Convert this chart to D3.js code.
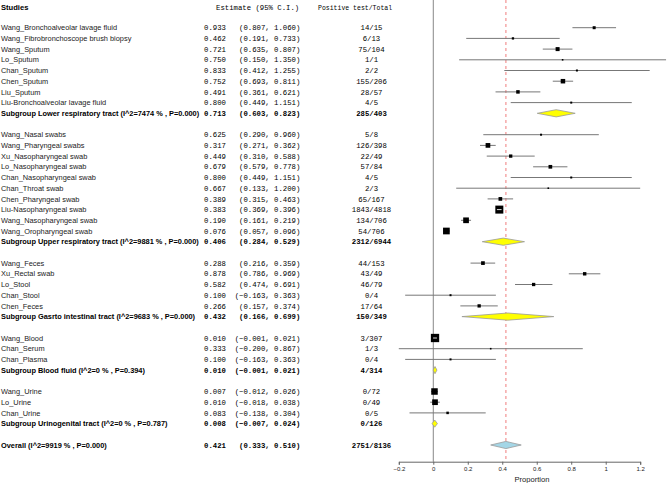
<!DOCTYPE html>
<html>
<head>
<meta charset="utf-8">
<script src="https://cdn.jsdelivr.net/npm/d3@7"></script>
<style>
html,body{margin:0;padding:0;background:#fff;}
svg{display:block;}
</style>
</head>
<body>
<svg id="chart" width="667" height="483"></svg>
<script>
// ---- data ----
const studies = [
 "Wang_Bronchoalveolar lavage fluid","Wang_Fibrobronchoscope brush biopsy","Wang_Sputum","Lo_Sputum","Chan_Sputum","Chen_Sputum","Liu_Sputum","Liu-Bronchoalveolar lavage fluid",
 "Wang_Nasal swabs","Wang_Pharyngeal swabs","Xu_Nasopharyngeal swab","Lo_Nasopharyngeal swab","Chan_Nasopharyngeal swab","Chan_Throat swab","Chen_Pharyngeal swab","Liu-Nasopharyngeal swab","Wang_Nasopharyngeal swab","Wang_Oropharyngeal swab",
 "Wang_Feces","Xu_Rectal swab","Lo_Stool","Chan_Stool","Chen_Feces",
 "Wang_Blood","Chan_Serum","Chan_Plasma",
 "Wang_Urine","Lo_Urine","Chan_Urine"
];
const groupOf = [0,0,0,0,0,0,0,0, 1,1,1,1,1,1,1,1,1,1, 2,2,2,2,2, 3,3,3, 4,4,4];
const estimates = [0.933,0.462,0.721,0.750,0.833,0.752,0.491,0.800,
 0.625,0.317,0.449,0.679,0.800,0.667,0.389,0.383,0.190,0.076,
 0.288,0.878,0.582,0.100,0.266,
 0.010,0.333,0.100,
 0.007,0.010,0.083];
const lower = [0.807,0.191,0.635,0.150,0.412,0.693,0.361,0.449,
 0.290,0.271,0.310,0.579,0.449,0.133,0.315,0.369,0.161,0.057,
 0.216,0.786,0.474,-0.163,0.157,
 -0.001,-0.200,-0.163,
 -0.012,-0.018,-0.138];
const upper = [1.060,0.733,0.807,1.350,1.255,0.811,0.621,1.151,
 0.960,0.362,0.588,0.778,1.151,1.200,0.463,0.396,0.219,0.096,
 0.359,0.969,0.691,0.363,0.374,
 0.021,0.867,0.363,
 0.026,0.038,0.304];
const counts = ["14/15","6/13","75/104","1/1","2/2","155/206","28/57","4/5",
 "5/8","126/398","22/49","57/84","4/5","2/3","65/167","1843/4818","134/706","54/706",
 "44/153","43/49","46/79","0/4","17/64",
 "3/307","1/3","0/4",
 "0/72","0/49","0/5"];
// relative study weights
const weights = [3.0,2.3,4.0,1.6,2.0,4.5,3.5,2.0,
 2.0,4.7,3.3,3.7,2.0,1.6,3.7,8.0,5.7,6.7,
 3.7,3.4,3.3,2.0,3.3,
 8.3,1.6,2.0,
 6.5,5.7,2.5];
const subgroupNames = [
 "Subgroup Lower respiratory tract (I^2=7474 % , P=0.000)",
 "Subgroup Upper respiratory tract (I^2=9881 % , P=0.000)",
 "Subgroup Gasrto intestinal tract (I^2=9683 % , P=0.000)",
 "Subgroup Blood fluid (I^2=0 % , P=0.394)",
 "Subgroup Urinogenital tract (I^2=0 % , P=0.787)"
];
const subEst = [0.713,0.406,0.432,0.010,0.008];
const subLow = [0.603,0.284,0.166,-0.001,-0.007];
const subUp = [0.823,0.529,0.699,0.021,0.024];
const subCounts = ["285/403","2312/6944","150/349","4/314","0/126"];
const overallName = "Overall (I^2=9919 % , P=0.000)";
const overall = {est:0.421, lo:0.333, hi:0.510, n:"2751/8136"};
const xTicks = [-0.2,0,0.2,0.4,0.6,0.8,1,1.2];
const xLabel = "Proportion";

// ---- build rows ----
const rows = [];
let r = 0;
for (let g = 0; g < subgroupNames.length; g++) {
  studies.forEach((s,i) => {
    if (groupOf[i] === g) rows.push({type:"study", row:r++, name:s, est:estimates[i], lo:lower[i], hi:upper[i], n:counts[i], w:weights[i]});
  });
  rows.push({type:"sub", row:r++, name:subgroupNames[g], est:subEst[g], lo:subLow[g], hi:subUp[g], n:subCounts[g]});
  r++; // blank
}
rows.push({type:"overall", row:r, name:overallName, est:overall.est, lo:overall.lo, hi:overall.hi, n:overall.n});

const svg = d3.select("#chart");
const y = d3.scaleLinear().domain([0, r]).range([27.7, 445]);
const x = d3.scaleLinear().domain([-0.2, 1.2]).range([398.8, 640.2]);
const size = d3.scaleLinear().domain([0, 10]).range([0, 10]);
const axisY = 461.7;

const fmt = d3.format(".3f");
const ciText = d => {
  const e = fmt(d.est);
  const c = "(" + fmt(d.lo) + ", " + fmt(d.hi) + ")";
  const pad = " ".repeat(Math.max(1, 22 - e.length - c.length));
  return e + pad + c;
};

const sans = "'Liberation Sans', Arial, Helvetica, sans-serif";
const mono = "'Liberation Mono', 'Courier New', monospace";

// headers
svg.append("text").attr("x",1).attr("y",10).attr("font-family",sans).attr("font-weight","bold")
  .attr("font-size",7.6).text("Studies");
svg.append("text").attr("x",216).attr("y",10).attr("font-family",mono).attr("font-size",7.3)
  .style("white-space","pre").text("Estimate (95% C.I.)");
svg.append("text").attr("x",318).attr("y",10).attr("font-family",mono).attr("font-size",6.5)
  .style("white-space","pre").text("Positive test/Total");

// reference lines
svg.append("line").attr("x1",x(0)).attr("x2",x(0)).attr("y1",0).attr("y2",axisY)
  .attr("stroke","#888").attr("stroke-width",1);
svg.append("line").attr("x1",x(overall.est)).attr("x2",x(overall.est)).attr("y1",0).attr("y2",axisY)
  .attr("stroke","#f5a3a3").attr("stroke-width",1.4).attr("stroke-dasharray","3,3");

// text columns
const tg = svg.append("g");
rows.forEach(d => {
  const bold = d.type !== "study" ? "bold" : "normal";
  const yy = y(d.row) + 2.6;
  tg.append("text").attr("x",1).attr("y",yy).attr("font-family",sans).attr("font-size",7.4)
    .attr("font-weight",bold).attr("fill", d.type==="study" ? "#222" : "#000").text(d.name);
  tg.append("text").attr("x",204).attr("y",yy).attr("font-family",mono).attr("font-size",7.3)
    .attr("font-weight",bold).style("white-space","pre").text(ciText(d));
  tg.append("text").attr("x",371.5).attr("y",yy).attr("text-anchor","middle").attr("font-family",mono)
    .attr("font-size",7.3).attr("font-weight",bold).text(d.n);
});

// study marks
const mg = svg.append("g");
rows.filter(d => d.type === "study").forEach(d => {
  const yy = y(d.row);
  const s = size(d.w);
  const inside = (x(d.hi) - x(d.lo)) < s;
  if (!inside) {
    mg.append("line").attr("x1",x(d.lo)).attr("x2",x(d.hi)).attr("y1",yy).attr("y2",yy)
      .attr("stroke","#777").attr("stroke-width",1);
  }
  mg.append("rect").attr("x",x(d.est)-s/2).attr("y",yy-s/2).attr("width",s).attr("height",s).attr("fill","#000");
  if (inside) {
    mg.append("line").attr("x1",x(d.lo)).attr("x2",x(d.hi)).attr("y1",yy).attr("y2",yy)
      .attr("stroke","#ddd").attr("stroke-width",1);
  }
});

// diamonds
rows.filter(d => d.type !== "study").forEach(d => {
  const yy = y(d.row);
  const h = 3.6;
  const pts = [[x(d.lo),yy],[x(d.est),yy-h],[x(d.hi),yy],[x(d.est),yy+h]];
  mg.append("path").attr("d", d3.line()(pts) + "Z")
    .attr("fill", d.type === "overall" ? "#a4d6e6" : "#ffff00")
    .attr("stroke", "#999").attr("stroke-width",0.8);
});

// axis
const axis = d3.axisBottom(x).tickValues(xTicks).tickSize(3).tickFormat(d3.format("~g"));
const ag = svg.append("g").attr("transform",`translate(0,${axisY})`).call(axis);
ag.select(".domain").attr("stroke","#666");
ag.selectAll(".tick line").attr("stroke","#666");
ag.selectAll(".tick text").attr("font-family",sans).attr("font-size",6).attr("fill","#222").attr("dy","0.6em");
svg.append("text").attr("x",532).attr("y",482).attr("text-anchor","middle").attr("font-family",sans)
  .attr("font-size",7.6).attr("fill","#222").text(xLabel);
</script>
</body>
</html>
